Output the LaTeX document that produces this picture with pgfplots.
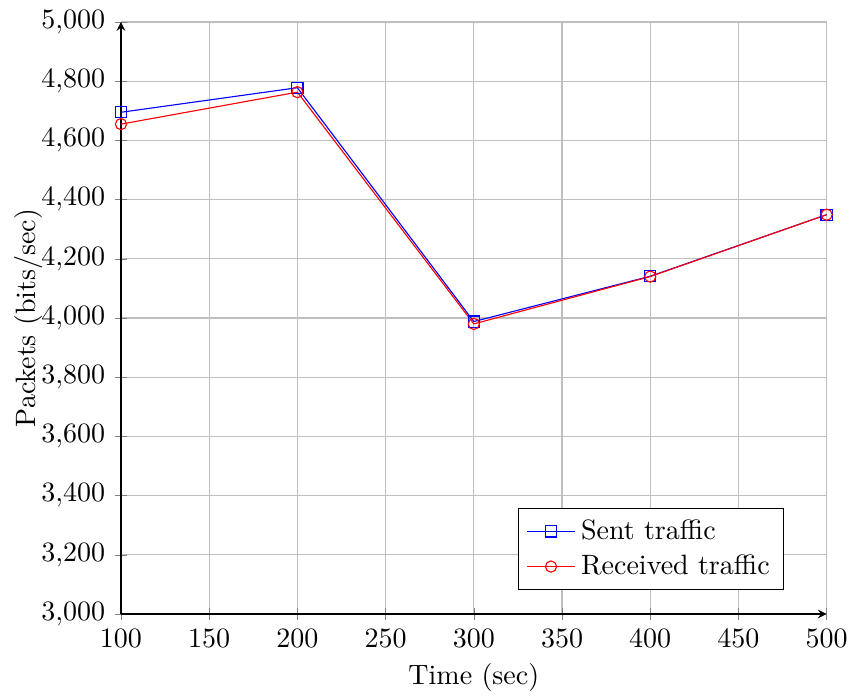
\documentclass[border=0pt]{standalone}
\usepackage{pgfplots}
\pgfplotsset{compat=1.18}
\begin{document}
\begin{tikzpicture}
\begin{axis}[
  name=ax,
  scale only axis,
  width=252pt, height=211.4pt,
  axis lines=left,
  xmin=100, xmax=500, ymin=3000, ymax=5000,
  xtick distance=50, ytick distance=200,
  grid=major,
  xlabel={Time (sec)},
  xlabel style={yshift=1.3pt},
  ylabel={Packets (bits/sec)},
  ylabel style={at={(axis description cs:-0.1305,0.5)}, anchor=center},
  legend style={at={(0.94,0.04)}, anchor=south east, legend cell align=left},
]
\addplot[blue, mark=square] coordinates {(100,4695) (200,4778) (300,3988) (400,4141) (500,4349)};
\addlegendentry{Sent traffic}
\addplot[red, mark=o] coordinates {(100,4655) (200,4763) (300,3980) (400,4140) (500,4349)};
\addlegendentry{Received traffic}
\end{axis}
\pgfresetboundingbox
\path ([shift={(-43.2pt,-29.3pt)}]ax.south west) rectangle ([shift={(8.7pt,7.86pt)}]ax.north east);
\end{tikzpicture}
\end{document}
